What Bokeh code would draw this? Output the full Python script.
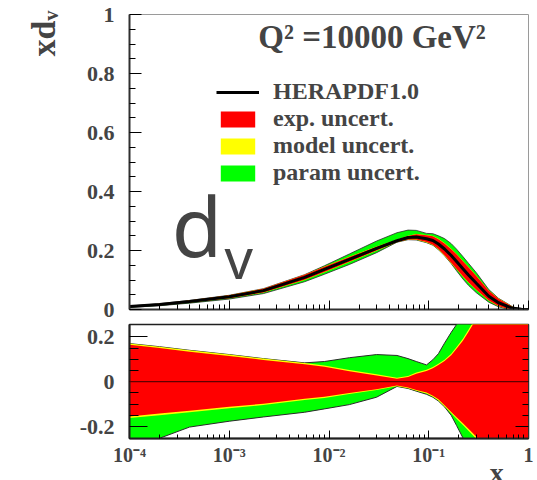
import numpy as np
from bokeh.plotting import figure
from bokeh.layouts import column
from bokeh.models import FixedTicker, LinearAxis, Span, Label, Legend, LegendItem, Range1d, Title
from bokeh.embed import file_html
from bokeh.resources import INLINE

# ---- data ----
x_vals = [1e-4, 2e-4, 4e-4, 1e-3, 2.2e-3, 5.7e-3, 9e-3, 0.016, 0.03, 0.048, 0.062, 0.075,
          0.095, 0.11, 0.125, 0.144, 0.168, 0.19, 0.22, 0.25, 0.3, 0.4, 0.5, 0.6, 0.7, 0.85, 1.0]
xdv = [0.010, 0.017, 0.027, 0.043, 0.064, 0.109, 0.136, 0.170, 0.207, 0.233, 0.244, 0.246,
       0.240, 0.234, 0.222, 0.205, 0.183, 0.163, 0.138, 0.117, 0.089, 0.045, 0.023, 0.012,
       0.004, 0.001, 0.0]
# relative uncertainties (lower panel)
exp_hi = [0.165, 0.150, 0.134, 0.115, 0.097, 0.078, 0.067, 0.047, 0.028, 0.013, 0.021, 0.036,
          0.048, 0.060, 0.074, 0.092, 0.118, 0.147, 0.183, 0.222, 0.28, 0.42, 0.6, 0.8, 1.0, 1.0, 1.0]
exp_lo = [-0.155, -0.142, -0.129, -0.112, -0.098, -0.076, -0.067, -0.050, -0.033, -0.017, -0.026,
          -0.037, -0.048, -0.062, -0.078, -0.105, -0.135, -0.158, -0.185, -0.210, -0.245, -0.33,
          -0.5, -0.7, -0.9, -1.0, -1.0]
mod_hi = [0.170, 0.156, 0.140, 0.121, 0.103, 0.083, 0.072, 0.052, 0.033, 0.018, 0.026, 0.041,
          0.053, 0.066, 0.080, 0.098, 0.125, 0.155, 0.192, 0.232, 0.29, 0.43, 0.62, 0.82, 1.02, 1.02, 1.02]
mod_lo = [-0.162, -0.149, -0.136, -0.118, -0.104, -0.081, -0.072, -0.055, -0.037, -0.020, -0.029,
          -0.040, -0.052, -0.067, -0.084, -0.110, -0.141, -0.165, -0.193, -0.218, -0.255, -0.34,
          -0.52, -0.72, -0.92, -1.0, -1.0]
tot_hi = [0.170, 0.156, 0.140, 0.121, 0.103, 0.084, 0.090, 0.107, 0.121, 0.117, 0.103, 0.090,
          0.075, 0.098, 0.125, 0.172, 0.220, 0.255, 0.30, 0.34, 0.40, 0.50, 0.65, 0.85, 1.05, 1.05, 1.05]
tot_lo = [-0.30, -0.252, -0.202, -0.176, -0.157, -0.136, -0.121, -0.102, -0.069, -0.021, -0.030,
          -0.042, -0.056, -0.069, -0.086, -0.112, -0.150, -0.195, -0.25, -0.30, -0.36, -0.45,
          -0.6, -0.8, -1.0, -1.0, -1.0]

x_major = [1e-4, 1e-3, 1e-2, 1e-1, 1]
x_minor = [m * d for d in [1e-4, 1e-3, 1e-2, 1e-1] for m in range(2, 10)]
x_tick_labels = {1e-4: "10⁻⁴", 1e-3: "10⁻³", 1e-2: "10⁻²", 1e-1: "10⁻¹", 1: "1"}
y_top_major = [0, 0.2, 0.4, 0.6, 0.8, 1]
y_top_minor = [0.05, 0.1, 0.15, 0.25, 0.3, 0.35, 0.45, 0.5, 0.55, 0.65, 0.7, 0.75, 0.85, 0.9, 0.95]
y_top_labels = {0: "0", 0.2: "0.2", 0.4: "0.4", 0.6: "0.6", 0.8: "0.8", 1: "1"}
y_bot_major = [-0.2, 0, 0.2]
y_bot_minor = [-0.15, -0.1, -0.05, 0.05, 0.1, 0.15]
y_bot_labels = {-0.2: "-0.2", 0: "0", 0.2: "0.2"}

SERIF = "Liberation Serif"
RED, YEL, GRN = "#ff0000", "#ffff00", "#00ff00"
EDGE = "#2a2a2a"

x = np.array(x_vals)
c = np.array(xdv)


def abs_band(rel):
    return c * (1.0 + np.array(rel))


W = 537

# ---------------- top panel ----------------
top = figure(width=W, height=320, x_axis_type="log", x_range=Range1d(1e-4, 1.0),
             y_range=Range1d(0, 1), output_backend="svg", toolbar_location=None,
             min_border_left=125, min_border_right=9, min_border_top=14, min_border_bottom=11)
top.grid.visible = False
top.outline_line_color = "#9a9a9a"
top.outline_line_width = 1

r_par = top.varea(x=x, y1=abs_band(tot_lo), y2=abs_band(tot_hi), fill_color=GRN)
top.line(x, abs_band(tot_lo), line_color=EDGE, line_width=1, line_alpha=0.8)
top.line(x, abs_band(tot_hi), line_color=EDGE, line_width=1, line_alpha=0.8)
r_mod = top.varea(x=x, y1=abs_band(mod_lo), y2=abs_band(mod_hi), fill_color=YEL)
r_exp = top.varea(x=x, y1=abs_band(exp_lo), y2=abs_band(exp_hi), fill_color=RED)
central = top.line(x, c, line_color="black", line_width=3)

leg = Legend(items=[LegendItem(label="HERAPDF1.0", renderers=[central]),
                    LegendItem(label="exp. uncert.", renderers=[r_exp]),
                    LegendItem(label="model uncert.", renderers=[r_mod]),
                    LegendItem(label="param uncert.", renderers=[r_par])],
             location=(87, 123), glyph_width=43, glyph_height=20, label_height=20,
             spacing=0, padding=0, margin=0, label_standoff=14,
             border_line_alpha=0, background_fill_alpha=0,
             label_text_font=SERIF, label_text_font_style="bold", label_text_font_size="24px")
top.add_layout(leg)

xa = top.xaxis[0]
xa.ticker = FixedTicker(ticks=x_major, minor_ticks=x_minor)
xa.major_tick_in, xa.major_tick_out = 9, 0
xa.minor_tick_in, xa.minor_tick_out = 5, 0
xa.major_label_text_font_size = "1px"
xa.major_label_text_alpha = 0
xa.major_label_standoff = 0
xa.axis_line_color = "#303030"
xa.axis_line_width = 2

ya = top.yaxis[0]
ya.ticker = FixedTicker(ticks=y_top_major, minor_ticks=y_top_minor)
ya.major_label_overrides = y_top_labels
ya.major_tick_in, ya.major_tick_out = 12, 0
ya.minor_tick_in, ya.minor_tick_out = 6, 0
ya.major_label_standoff = 15
ya.major_label_text_font = SERIF
ya.major_label_text_font_style = "bold"
ya.major_label_text_font_size = "22px"
ya.axis_line_color = "#303030"
ya.axis_line_width = 2

top.add_layout(Title(text="xdᵥ", align="right", vertical_align="bottom", standoff=44,
                     offset=-4, text_font=SERIF, text_font_style="bold",
                     text_font_size="34px"), "left")

top.add_layout(Label(x=0.027, y=0.925, text="Q² =10000 GeV²", text_font=SERIF,
                     text_font_style="bold", text_font_size="33px", text_align="center",
                     text_baseline="alphabetic"))
top.add_layout(Label(x=2.65e-4, y=0.285, text="d", text_font="Noto Sans",
                     text_font_size="82px", text_baseline="alphabetic"))
top.add_layout(Label(x=8.97e-4, y=0.177, text="v", text_font="Noto Sans",
                     text_font_size="56px", text_baseline="alphabetic"))

# ---------------- bottom panel ----------------
bot = figure(width=W, height=148, x_axis_type="log", x_range=top.x_range,
             y_range=Range1d(-0.253, 0.255), output_backend="svg", toolbar_location=None,
             min_border_left=125, min_border_right=9, min_border_top=4, min_border_bottom=27)
bot.grid.visible = False
bot.outline_line_color = "#202020"
bot.outline_line_width = 1.5

bot.varea(x=x, y1=tot_lo, y2=tot_hi, fill_color=GRN)
bot.line(x, tot_lo, line_color=EDGE, line_width=1)
bot.line(x, tot_hi, line_color=EDGE, line_width=1)
bot.varea(x=x, y1=mod_lo, y2=mod_hi, fill_color=YEL)
bot.varea(x=x, y1=exp_lo, y2=exp_hi, fill_color=RED)
bot.add_layout(Span(location=0, dimension="width", line_color="#600000", line_width=1.2))

bx = bot.xaxis[0]
bx.ticker = FixedTicker(ticks=x_major, minor_ticks=x_minor)
bx.major_label_overrides = x_tick_labels
bx.major_tick_in, bx.major_tick_out = 8, 0
bx.minor_tick_in, bx.minor_tick_out = 4, 0
bx.major_label_standoff = 5
bx.major_label_text_font = SERIF
bx.major_label_text_font_style = "bold"
bx.major_label_text_font_size = "20px"
bx.axis_line_color = "#202020"
bx.axis_line_width = 2

by = bot.yaxis[0]
by.ticker = FixedTicker(ticks=y_bot_major, minor_ticks=y_bot_minor)
by.major_label_overrides = y_bot_labels
by.major_tick_in, by.major_tick_out = 18, 0
by.minor_tick_in, by.minor_tick_out = 9, 0
by.major_label_standoff = 15
by.major_label_text_font = SERIF
by.major_label_text_font_style = "bold"
by.major_label_text_font_size = "22px"
by.axis_line_color = "#202020"
by.axis_line_width = 2

ry = LinearAxis(ticker=FixedTicker(ticks=y_bot_major, minor_ticks=y_bot_minor),
                major_tick_in=13, major_tick_out=0, minor_tick_in=6, minor_tick_out=0,
                major_label_text_font_size="1px", major_label_text_alpha=0,
                major_label_standoff=0, axis_line_color="#303030")
bot.add_layout(ry, "right")

# ---------------- strip holding the x-axis title (cut by the lower edge, as in the original) ----
strip = figure(width=W, height=12, x_axis_type="log", x_range=top.x_range,
               y_range=Range1d(0, 1), output_backend="svg", toolbar_location=None,
               x_axis_location=None, y_axis_location=None,
               min_border_left=125, min_border_right=9, min_border_top=0, min_border_bottom=0)
strip.grid.visible = False
strip.outline_line_color = None
strip.add_layout(Label(x=0.48, y=0.67, text="x", text_font=SERIF, text_font_style="bold",
                       text_font_size="28px", text_align="center", text_baseline="alphabetic"))

layout = column(top, bot, strip, spacing=0)
open("out.html", "w").write(file_html(layout, INLINE))
